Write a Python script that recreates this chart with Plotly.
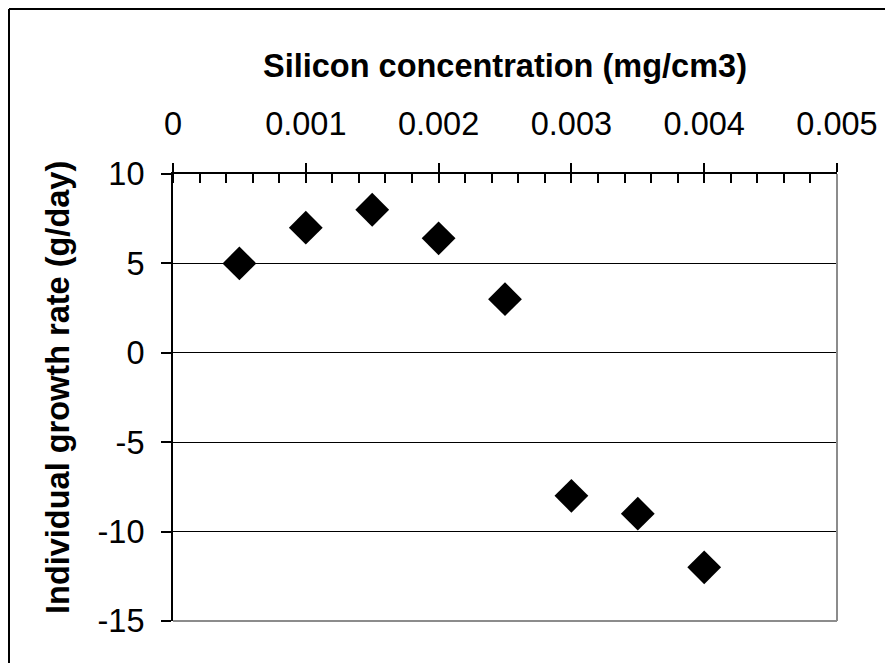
import plotly.graph_objects as go

# Data
silicon = [0.0005, 0.001, 0.0015, 0.002, 0.0025, 0.003, 0.0035, 0.004]
growth = [5.0, 7.0, 8.0, 6.4, 3.0, -8.0, -9.0, -12.0]
x_ticks = [0, 0.001, 0.002, 0.003, 0.004, 0.005]
x_labels = ["0", "0.001", "0.002", "0.003", "0.004", "0.005"]
y_ticks = [-15, -10, -5, 0, 5, 10]
y_labels = ["-15", "-10", "-5", "0", "5", "10"]

# page body has an 8px margin; figure sized to fit in the window
OFF = 8
W, H = 878, 655
L, T = 173 - OFF, 174 - OFF
R = W - (837 - OFF)
B = H - (621 - OFF)
pw = W - L - R
ph = H - T - B

FONT = "Liberation Sans, Arial, sans-serif"

fig = go.Figure()
fig.add_trace(go.Scatter(
    x=silicon, y=growth, mode="markers",
    marker=dict(symbol="diamond", size=26, color="black", line=dict(width=0)),
    showlegend=False, hoverinfo="x+y",
))
# invisible trace for overlay axis (inner half of crossing major ticks)
fig.add_trace(go.Scatter(x=[None], y=[None], xaxis="x2", yaxis="y", showlegend=False))

fig.update_layout(
    width=W, height=H,
    margin=dict(l=L, r=R, t=T, b=B, pad=0, autoexpand=False),
    paper_bgcolor="white", plot_bgcolor="white",
    font=dict(family=FONT, color="black", size=31),
    xaxis=dict(
        side="top", range=[0, 0.005], automargin=False,
        tickmode="array", tickvals=x_ticks, ticktext=x_labels,
        ticks="outside", ticklen=9, tickwidth=2, tickcolor="black",
        showline=True, linecolor="black", linewidth=2,
        showgrid=False, zeroline=False,
        tickfont=dict(size=32.5),
        ticklabelstandoff=15,
        minor=dict(ticks="inside", dtick=0.0002, tick0=0, ticklen=9, tickwidth=2, tickcolor="black", showgrid=False),
        title=dict(text="<b>Silicon concentration (mg/cm3)</b>", font=dict(size=32.5), standoff=19),
        fixedrange=True,
    ),
    xaxis2=dict(
        overlaying="x", side="top", range=[0, 0.005], automargin=False,
        tickmode="array", tickvals=x_ticks, showticklabels=False,
        ticks="inside", ticklen=9, tickwidth=2, tickcolor="black",
        showline=False, showgrid=False, zeroline=False,
    ),
    yaxis=dict(
        range=[-15, 10], automargin=False,
        tickmode="array", tickvals=y_ticks, ticktext=y_labels,
        ticks="outside", ticklen=10, tickwidth=2, tickcolor="black",
        showline=True, linecolor="black", linewidth=2,
        showgrid=True, gridcolor="black", gridwidth=1,
        zeroline=False,
        tickfont=dict(size=32.5),
        ticklabelstandoff=10,
        fixedrange=True,
    ),
)

def px_to_paper_x(px):
    return (px - OFF - L) / pw

def px_to_paper_y(py):
    return 1 - (py - OFF - T) / ph

fig.add_annotation(
    text="<b>Individual growth rate (g/day)</b>", textangle=-90,
    xref="paper", yref="paper", x=px_to_paper_x(58), y=px_to_paper_y(388),
    xanchor="center", yanchor="middle", showarrow=False,
    font=dict(size=32.5, family=FONT, color="black"),
)

shapes = [
    # right and bottom gray borders of plot area
    dict(type="line", xref="paper", yref="paper", x0=1, x1=1, y0=0, y1=1,
         line=dict(color="#8c8c8c", width=2), layer="above"),
    dict(type="line", xref="paper", yref="paper", x0=0, x1=1, y0=0, y1=0,
         line=dict(color="#8c8c8c", width=2), layer="above"),
    # outer chart border (top and left edges visible)
    dict(type="line", xref="paper", yref="paper",
         x0=px_to_paper_x(OFF + 1), x1=px_to_paper_x(OFF + 1),
         y0=px_to_paper_y(9), y1=px_to_paper_y(OFF + H),
         line=dict(color="black", width=2), layer="below"),
    dict(type="line", xref="paper", yref="paper",
         x0=px_to_paper_x(OFF + 1), x1=px_to_paper_x(OFF + W - 1),
         y0=px_to_paper_y(9), y1=px_to_paper_y(9),
         line=dict(color="black", width=2), layer="below"),
]
fig.update_layout(shapes=shapes)

fig.write_html("out.html", config={"displayModeBar": False})
